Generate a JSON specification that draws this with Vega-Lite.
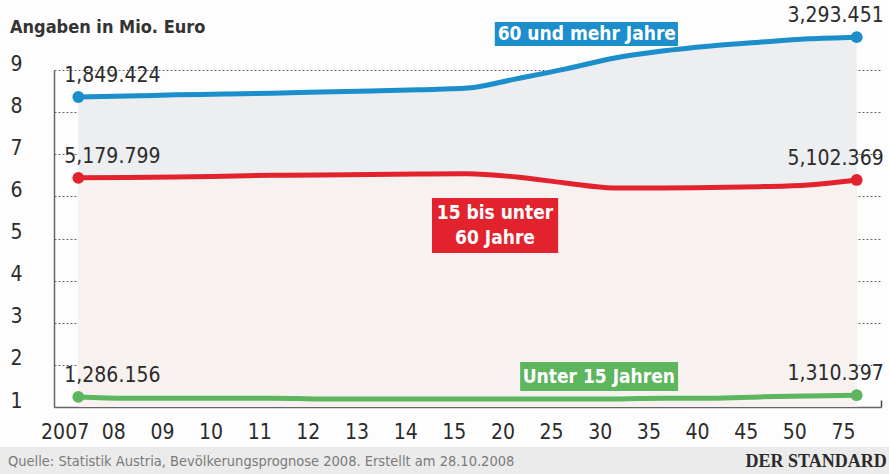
{
"$schema":"https://vega.github.io/schema/vega-lite/v6.json",
"width":827,"height":337,
"autosize":{"type":"none"},
"padding":{"left":54,"top":70,"right":8,"bottom":67},
"background":"#fdfdfd",
"config":{"view":{"stroke":null},"font":"DejaVu Sans Condensed",
 "axisX":{"labelFont":"DejaVu Sans Condensed","labelFontSize":21,"labelColor":"#2b2b2b","labelAngle":0,"labelPadding":21,"labelOffset":-38,"labelBaseline":"top","labelOverlap":false,
  "ticks":true,"tickOffset":24.3,"tickSize":-7,"tickColor":"#444","tickWidth":1.5,"domainColor":"#666","domainWidth":1.5,"grid":false,"zindex":1},
 "axisY":{"labelFont":"DejaVu Sans Condensed","tickCount":9,"ticks":false,"labelPadding":32,"labelFontSize":21,"labelColor":"#2b2b2b","labelOffset":-6,"labelBaseline":"middle",
  "domainColor":"#666","domainWidth":1.5,"grid":true,"gridDash":[2,2],"gridColor":"#666","gridWidth":1,"zindex":1}},
"datasets":{
"lines":[
{"jahr":"2007","gruppe":"60 und mehr Jahre","wert":8.36},
{"jahr":"08","gruppe":"60 und mehr Jahre","wert":8.38},
{"jahr":"09","gruppe":"60 und mehr Jahre","wert":8.41},
{"jahr":"10","gruppe":"60 und mehr Jahre","wert":8.43},
{"jahr":"11","gruppe":"60 und mehr Jahre","wert":8.45},
{"jahr":"12","gruppe":"60 und mehr Jahre","wert":8.48},
{"jahr":"13","gruppe":"60 und mehr Jahre","wert":8.50},
{"jahr":"14","gruppe":"60 und mehr Jahre","wert":8.53},
{"jahr":"15","gruppe":"60 und mehr Jahre","wert":8.57},
{"jahr":"20","gruppe":"60 und mehr Jahre","wert":8.79},
{"jahr":"25","gruppe":"60 und mehr Jahre","wert":9.02},
{"jahr":"30","gruppe":"60 und mehr Jahre","wert":9.28},
{"jahr":"35","gruppe":"60 und mehr Jahre","wert":9.45},
{"jahr":"40","gruppe":"60 und mehr Jahre","wert":9.57},
{"jahr":"45","gruppe":"60 und mehr Jahre","wert":9.66},
{"jahr":"50","gruppe":"60 und mehr Jahre","wert":9.74},
{"jahr":"75","gruppe":"60 und mehr Jahre","wert":9.78},
{"jahr":"2007","gruppe":"15 bis unter 60 Jahre","wert":6.44},
{"jahr":"08","gruppe":"15 bis unter 60 Jahre","wert":6.45},
{"jahr":"09","gruppe":"15 bis unter 60 Jahre","wert":6.46},
{"jahr":"10","gruppe":"15 bis unter 60 Jahre","wert":6.48},
{"jahr":"11","gruppe":"15 bis unter 60 Jahre","wert":6.50},
{"jahr":"12","gruppe":"15 bis unter 60 Jahre","wert":6.51},
{"jahr":"13","gruppe":"15 bis unter 60 Jahre","wert":6.52},
{"jahr":"14","gruppe":"15 bis unter 60 Jahre","wert":6.53},
{"jahr":"15","gruppe":"15 bis unter 60 Jahre","wert":6.54},
{"jahr":"20","gruppe":"15 bis unter 60 Jahre","wert":6.46},
{"jahr":"25","gruppe":"15 bis unter 60 Jahre","wert":6.32},
{"jahr":"30","gruppe":"15 bis unter 60 Jahre","wert":6.20},
{"jahr":"35","gruppe":"15 bis unter 60 Jahre","wert":6.20},
{"jahr":"40","gruppe":"15 bis unter 60 Jahre","wert":6.21},
{"jahr":"45","gruppe":"15 bis unter 60 Jahre","wert":6.23},
{"jahr":"50","gruppe":"15 bis unter 60 Jahre","wert":6.27},
{"jahr":"75","gruppe":"15 bis unter 60 Jahre","wert":6.39},
{"jahr":"2007","gruppe":"Unter 15 Jahren","wert":1.24},
{"jahr":"08","gruppe":"Unter 15 Jahren","wert":1.21},
{"jahr":"09","gruppe":"Unter 15 Jahren","wert":1.21},
{"jahr":"10","gruppe":"Unter 15 Jahren","wert":1.21},
{"jahr":"11","gruppe":"Unter 15 Jahren","wert":1.21},
{"jahr":"12","gruppe":"Unter 15 Jahren","wert":1.19},
{"jahr":"13","gruppe":"Unter 15 Jahren","wert":1.19},
{"jahr":"14","gruppe":"Unter 15 Jahren","wert":1.19},
{"jahr":"15","gruppe":"Unter 15 Jahren","wert":1.19},
{"jahr":"20","gruppe":"Unter 15 Jahren","wert":1.19},
{"jahr":"25","gruppe":"Unter 15 Jahren","wert":1.19},
{"jahr":"30","gruppe":"Unter 15 Jahren","wert":1.19},
{"jahr":"35","gruppe":"Unter 15 Jahren","wert":1.21},
{"jahr":"40","gruppe":"Unter 15 Jahren","wert":1.21},
{"jahr":"45","gruppe":"Unter 15 Jahren","wert":1.24},
{"jahr":"50","gruppe":"Unter 15 Jahren","wert":1.26},
{"jahr":"75","gruppe":"Unter 15 Jahren","wert":1.28}
],
"ends":[
{"jahr":"2007","gruppe":"60 und mehr Jahre","wert":8.36,"anzahl":"1,849.424"},
{"jahr":"75","gruppe":"60 und mehr Jahre","wert":9.78,"anzahl":"3,293.451"},
{"jahr":"2007","gruppe":"15 bis unter 60 Jahre","wert":6.44,"anzahl":"5,179.799"},
{"jahr":"75","gruppe":"15 bis unter 60 Jahre","wert":6.39,"anzahl":"5,102.369"},
{"jahr":"2007","gruppe":"Unter 15 Jahren","wert":1.24,"anzahl":"1,286.156"},
{"jahr":"75","gruppe":"Unter 15 Jahren","wert":1.28,"anzahl":"1,310.397"}
],
"schilder":[
{"gruppe":"60 und mehr Jahre","schild":"60 und mehr Jahre"},
{"gruppe":"15 bis unter 60 Jahre","schild":"15 bis unter\n60 Jahre"},
{"gruppe":"Unter 15 Jahren","schild":"Unter 15 Jahren"}
],
"texte":[
{"rolle":"titel","text":"Angaben in Mio. Euro"},
{"rolle":"quelle","text":"Quelle: Statistik Austria, Bevölkerungsprognose 2008. Erstellt am 28.10.2008"},
{"rolle":"marke","text":"DER STANDARD"}
]
},
"layer":[
{"data":{"values":[{"teil":"Fusszeile"}]},
 "mark":{"type":"rect","color":"#ebebeb","xOffset":-78.3,"x2Offset":32.3},
 "encoding":{
  "x":{"datum":"2007","type":"ordinal","title":null,"scale":{"type":"point","padding":0.5,"domain":["2007","08","09","10","11","12","13","14","15","20","25","30","35","40","45","50","75"]}},
  "x2":{"datum":"75"},
  "y":{"datum":0.05,"type":"quantitative","title":null,"scale":{"domain":[1,9],"nice":false,"zero":false}},
  "y2":{"datum":-0.7}}},
{"data":{"name":"lines"},
 "transform":[{"filter":"datum.gruppe == '60 und mehr Jahre'"}],
 "mark":{"type":"area","interpolate":"monotone","color":"#eceef0"},
 "encoding":{
  "x":{"field":"jahr","type":"ordinal","title":null,"scale":{"type":"point","padding":0.5,"domain":["2007","08","09","10","11","12","13","14","15","20","25","30","35","40","45","50","75"]}},
  "y":{"field":"wert","type":"quantitative","title":null,"scale":{"domain":[1,9],"nice":false,"zero":false}},
  "y2":{"datum":1}}},
{"data":{"name":"lines"},
 "transform":[{"filter":"datum.gruppe == '15 bis unter 60 Jahre'"}],
 "mark":{"type":"area","interpolate":"monotone","color":"#f7f2ef"},
 "encoding":{
  "x":{"field":"jahr","type":"ordinal","title":null,"scale":{"type":"point","padding":0.5,"domain":["2007","08","09","10","11","12","13","14","15","20","25","30","35","40","45","50","75"]}},
  "y":{"field":"wert","type":"quantitative","title":null,"scale":{"domain":[1,9],"nice":false,"zero":false}},
  "y2":{"datum":1}}},
{"data":{"name":"lines"},
 "mark":{"type":"line","interpolate":"monotone","strokeWidth":5,"strokeCap":"round"},
 "encoding":{
  "x":{"field":"jahr","type":"ordinal","title":null,"scale":{"type":"point","padding":0.5,"domain":["2007","08","09","10","11","12","13","14","15","20","25","30","35","40","45","50","75"]}},
  "y":{"field":"wert","type":"quantitative","title":null,"scale":{"domain":[1,9],"nice":false,"zero":false}},
  "color":{"field":"gruppe","type":"nominal","scale":{"domain":["60 und mehr Jahre","15 bis unter 60 Jahre","Unter 15 Jahren"],"range":["#1b8ecb","#e2232e","#5db55e"]},"legend":null}}},
{"data":{"name":"ends"},
 "mark":{"type":"circle","size":140,"opacity":1},
 "encoding":{
  "x":{"field":"jahr","type":"ordinal","title":null,"scale":{"type":"point","padding":0.5,"domain":["2007","08","09","10","11","12","13","14","15","20","25","30","35","40","45","50","75"]}},
  "y":{"field":"wert","type":"quantitative","title":null,"scale":{"domain":[1,9],"nice":false,"zero":false}},
  "color":{"field":"gruppe","type":"nominal","scale":{"domain":["60 und mehr Jahre","15 bis unter 60 Jahre","Unter 15 Jahren"],"range":["#1b8ecb","#e2232e","#5db55e"]},"legend":null}}},
{"data":{"name":"ends"},
 "transform":[{"filter":"datum.jahr == '2007'"}],
 "mark":{"type":"text","align":"left","baseline":"middle","dx":-14,"dy":-21,"fontSize":21,"color":"#2b2b2b","font":"DejaVu Sans Condensed"},
 "encoding":{
  "x":{"field":"jahr","type":"ordinal","title":null,"scale":{"type":"point","padding":0.5,"domain":["2007","08","09","10","11","12","13","14","15","20","25","30","35","40","45","50","75"]}},
  "y":{"field":"wert","type":"quantitative","title":null,"scale":{"domain":[1,9],"nice":false,"zero":false}},
  "text":{"field":"anzahl"}}},
{"data":{"name":"ends"},
 "transform":[{"filter":"datum.jahr == '75'"}],
 "mark":{"type":"text","align":"right","baseline":"middle","dx":27,"dy":-21,"fontSize":21,"color":"#2b2b2b","font":"DejaVu Sans Condensed"},
 "encoding":{
  "x":{"field":"jahr","type":"ordinal","title":null,"scale":{"type":"point","padding":0.5,"domain":["2007","08","09","10","11","12","13","14","15","20","25","30","35","40","45","50","75"]}},
  "y":{"field":"wert","type":"quantitative","title":null,"scale":{"domain":[1,9],"nice":false,"zero":false}},
  "text":{"field":"anzahl"}}},
{"data":{"name":"schilder"},
 "transform":[{"filter":"datum.gruppe == '60 und mehr Jahre'"}],
 "mark":{"type":"rect","color":"#1b8ecb","xOffset":-70,"x2Offset":64.5},
 "encoding":{
  "x":{"datum":"25","type":"ordinal","title":null,"scale":{"type":"point","padding":0.5,"domain":["2007","08","09","10","11","12","13","14","15","20","25","30","35","40","45","50","75"]}},
  "x2":{"datum":"30"},
  "y":{"datum":10.14,"type":"quantitative","title":null,"scale":{"domain":[1,9],"nice":false,"zero":false}},
  "y2":{"datum":9.57}}},
{"data":{"name":"schilder"},
 "transform":[{"filter":"datum.gruppe == '15 bis unter 60 Jahre'"}],
 "mark":{"type":"rect","color":"#e2232e","xOffset":-35.5,"x2Offset":42},
 "encoding":{
  "x":{"datum":"15","type":"ordinal","title":null,"scale":{"type":"point","padding":0.5,"domain":["2007","08","09","10","11","12","13","14","15","20","25","30","35","40","45","50","75"]}},
  "x2":{"datum":"20"},
  "y":{"datum":5.96,"type":"quantitative","title":null,"scale":{"domain":[1,9],"nice":false,"zero":false}},
  "y2":{"datum":4.656}}},
{"data":{"name":"schilder"},
 "transform":[{"filter":"datum.gruppe == 'Unter 15 Jahren'"}],
 "mark":{"type":"rect","color":"#5db55e","xOffset":4,"x2Offset":16},
 "encoding":{
  "x":{"datum":"20","type":"ordinal","title":null,"scale":{"type":"point","padding":0.5,"domain":["2007","08","09","10","11","12","13","14","15","20","25","30","35","40","45","50","75"]}},
  "x2":{"datum":"35"},
  "y":{"datum":2.07,"type":"quantitative","title":null,"scale":{"domain":[1,9],"nice":false,"zero":false}},
  "y2":{"datum":1.38}}},
{"data":{"name":"schilder"},
 "transform":[{"filter":"datum.gruppe == '60 und mehr Jahre'"}],
 "mark":{"type":"text","color":"white","fontWeight":"bold","fontSize":19,"font":"DejaVu Sans Condensed","align":"center","baseline":"middle","dx":22},
 "encoding":{
  "x":{"datum":"25","type":"ordinal","title":null,"scale":{"type":"point","padding":0.5,"domain":["2007","08","09","10","11","12","13","14","15","20","25","30","35","40","45","50","75"]}},
  "y":{"datum":9.855,"type":"quantitative","title":null,"scale":{"domain":[1,9],"nice":false,"zero":false}},
  "text":{"field":"schild"}}},
{"data":{"name":"schilder"},
 "transform":[{"filter":"datum.gruppe == '15 bis unter 60 Jahre'"}],
 "mark":{"type":"text","color":"white","fontWeight":"bold","fontSize":19,"font":"DejaVu Sans Condensed","align":"center","baseline":"middle","dx":27.5,"dy":-12.5,"lineBreak":"\n","lineHeight":25},
 "encoding":{
  "x":{"datum":"15","type":"ordinal","title":null,"scale":{"type":"point","padding":0.5,"domain":["2007","08","09","10","11","12","13","14","15","20","25","30","35","40","45","50","75"]}},
  "y":{"datum":5.31,"type":"quantitative","title":null,"scale":{"domain":[1,9],"nice":false,"zero":false}},
  "text":{"field":"schild"}}},
{"data":{"name":"schilder"},
 "transform":[{"filter":"datum.gruppe == 'Unter 15 Jahren'"}],
 "mark":{"type":"text","color":"white","fontWeight":"bold","fontSize":19,"font":"DejaVu Sans Condensed","align":"center","baseline":"middle","dx":34},
 "encoding":{
  "x":{"datum":"25","type":"ordinal","title":null,"scale":{"type":"point","padding":0.5,"domain":["2007","08","09","10","11","12","13","14","15","20","25","30","35","40","45","50","75"]}},
  "y":{"datum":1.724,"type":"quantitative","title":null,"scale":{"domain":[1,9],"nice":false,"zero":false}},
  "text":{"field":"schild"}}},
{"data":{"name":"texte"},
 "transform":[{"filter":"datum.rolle == 'titel'"}],
 "mark":{"type":"text","color":"#333","fontWeight":"bold","fontSize":18,"font":"DejaVu Sans Condensed","align":"left","baseline":"middle","dx":-68.3},
 "encoding":{
  "x":{"datum":"2007","type":"ordinal","title":null,"scale":{"type":"point","padding":0.5,"domain":["2007","08","09","10","11","12","13","14","15","20","25","30","35","40","45","50","75"]}},
  "y":{"datum":10.0,"type":"quantitative","title":null,"scale":{"domain":[1,9],"nice":false,"zero":false}},
  "text":{"field":"text"}}},
{"data":{"name":"texte"},
 "transform":[{"filter":"datum.rolle == 'quelle'"}],
 "mark":{"type":"text","color":"#7a7a7a","fontSize":14.5,"font":"DejaVu Sans Condensed","align":"left","baseline":"middle","dx":-70.3},
 "encoding":{
  "x":{"datum":"2007","type":"ordinal","title":null,"scale":{"type":"point","padding":0.5,"domain":["2007","08","09","10","11","12","13","14","15","20","25","30","35","40","45","50","75"]}},
  "y":{"datum":-0.306,"type":"quantitative","title":null,"scale":{"domain":[1,9],"nice":false,"zero":false}},
  "text":{"field":"text"}}},
{"data":{"name":"texte"},
 "transform":[{"filter":"datum.rolle == 'marke'"}],
 "mark":{"type":"text","color":"#2a2a2a","fontWeight":"bold","fontSize":18,"font":"Liberation Serif","align":"right","baseline":"middle","dx":30},
 "encoding":{
  "x":{"datum":"75","type":"ordinal","title":null,"scale":{"type":"point","padding":0.5,"domain":["2007","08","09","10","11","12","13","14","15","20","25","30","35","40","45","50","75"]}},
  "y":{"datum":-0.306,"type":"quantitative","title":null,"scale":{"domain":[1,9],"nice":false,"zero":false}},
  "text":{"field":"text"}}}
]
}
